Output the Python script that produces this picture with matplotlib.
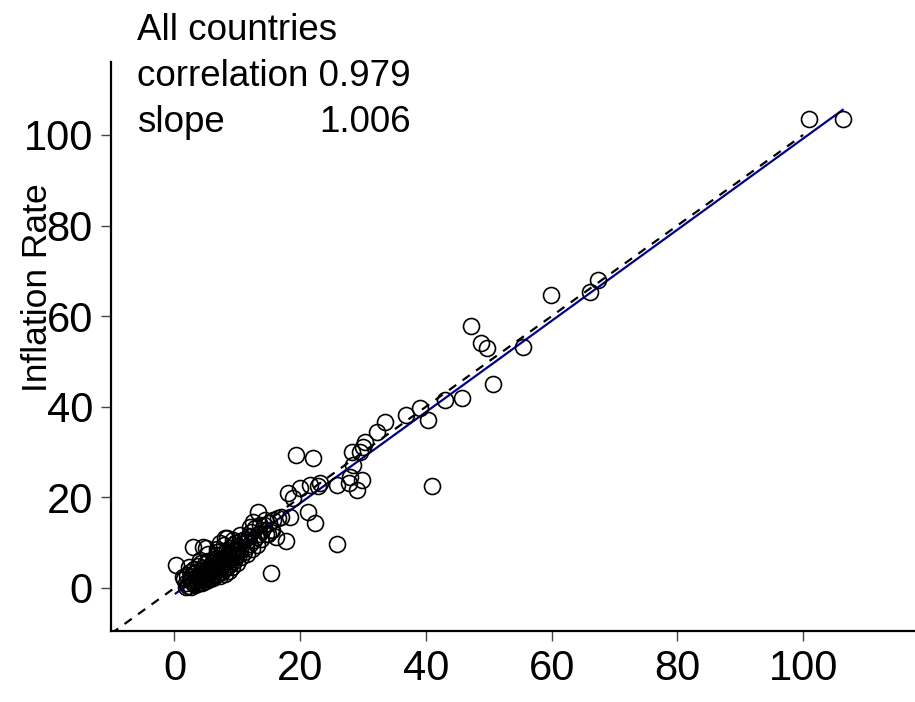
import matplotlib
matplotlib.use("Agg")
import matplotlib.pyplot as plt
import numpy as np

plt.rcParams['font.family'] = ['Liberation Sans', 'DejaVu Sans']

# ---- data ----
outlier_x = [101.0, 106.3, 67.4, 66.1, 59.9, 47.1, 48.7, 49.7, 55.5, 50.7,
             45.8, 43.1, 39.1, 40.4, 36.9, 40.9, 33.5, 32.2, 30.3, 30.0,
             28.2, 29.5, 28.4, 27.9, 29.8, 25.8, 27.7, 29.0, 25.8, 23.1,
             19.4, 22.1, 22.9, 21.5, 20.0, 18.1, 18.9, 21.3, 22.3, 17.8,
             15.3, 18.4, 17.0, 15.7, 13.3, 16.5, 14.4, 12.5, 12.0, 15.5,
             16.2, 14.9]
outlier_y = [103.5, 103.5, 68.0, 65.4, 64.7, 57.8, 54.0, 52.9, 53.1, 45.1,
             42.0, 41.5, 39.7, 37.1, 38.2, 22.5, 36.7, 34.5, 32.3, 31.2,
             30.1, 30.1, 27.2, 24.6, 23.8, 22.7, 23.1, 21.6, 9.8, 23.1,
             29.4, 28.6, 22.4, 22.7, 22.0, 20.9, 19.8, 16.8, 14.3, 10.4,
             3.4, 15.6, 15.7, 15.0, 16.8, 15.4, 15.0, 14.6, 13.5, 12.8,
             11.3, 11.9]

cluster_x = [0.2, 3.0, 5.0, 7.2, 8.0, 1.9, 1.4, 9.3, 10.4, 11.7, 9.9, 6.7, 8.3, 7.8, 4.6,
             1.5, 1.8, 2.0, 2.2, 2.4, 2.5, 2.7, 2.9, 3.0, 3.1, 3.3, 3.4, 3.5, 3.6, 3.7,
             3.8, 3.9, 4.0, 4.1, 4.2, 4.3, 4.4, 4.5, 4.6, 4.7, 4.8, 4.9, 5.0, 5.0, 5.1,
             5.2, 5.3, 5.4, 5.5, 5.6, 5.7, 5.8, 5.9, 6.0, 6.1, 6.2, 6.3, 6.4, 6.5, 6.6,
             6.7, 6.8, 6.9, 7.0, 7.1, 7.2, 7.3, 7.4, 7.5, 7.6, 7.7, 7.8, 7.9, 8.0, 8.1,
             8.2, 8.3, 8.4, 8.5, 8.6, 8.7, 8.8, 8.9, 9.0, 9.1, 9.2, 9.3, 9.4, 9.5, 9.6,
             9.7, 9.8, 9.9, 10.0, 10.1, 10.2, 10.4, 10.5, 10.6, 10.8, 11.0, 11.2, 11.4, 11.6, 11.8,
             12.0, 12.2, 12.4, 12.6, 12.8, 13.0, 13.2, 13.4, 13.6, 13.8, 14.0, 14.3, 14.6, 15.0, 15.3,
             2.6, 3.2, 3.8, 4.4, 5.6, 6.2, 2.3, 4.0, 5.3, 6.8]
cluster_y = [5.1, 9.1, 8.8, 9.9, 11.0, 0.3, 2.5, 10.6, 11.7, 10.6, 8.0, 8.0, 11.0, 9.5, 9.1,
             2.0, 1.2, 2.8, 0.5, 3.5, 1.8, 2.4, 1.0, 3.0, 4.2, 2.2, 1.5, 3.6, 0.8, 2.9,
             4.8, 1.9, 3.3, 2.5, 5.5, 1.2, 3.9, 2.8, 4.4, 2.0, 3.5, 5.2, 1.6, 3.0, 4.0,
             2.4, 6.0, 3.3, 4.7, 1.9, 3.8, 2.7, 5.4, 3.5, 4.3, 2.2, 6.5, 3.9, 5.0, 2.9,
             4.5, 7.2, 3.4, 5.6, 4.1, 2.6, 6.2, 4.8, 3.6, 7.6, 5.3, 4.2, 6.6, 3.1, 5.8,
             7.0, 4.6, 8.3, 6.0, 3.8, 7.4, 5.2, 8.8, 6.4, 4.7, 7.8, 9.5, 5.9, 8.1, 6.9,
             10.0, 7.3, 8.6, 5.5, 9.2, 7.6, 10.4, 8.4, 6.8, 9.7, 8.0, 10.9, 9.1, 7.5, 11.5,
             9.8, 12.4, 8.6, 10.6, 13.2, 11.3, 9.5, 12.0, 14.0, 10.9, 12.8, 13.8, 11.9, 14.4, 12.7,
             0.2, 0.6, 1.0, 1.4, 2.2, 2.8, 4.6, 6.2, 7.5, 8.6]

fit_intercept = -1.4
fit_slope = 1.006
ref_line_end = 100

x_ticks = [0, 20, 40, 60, 80, 100]
y_ticks = [0, 20, 40, 60, 80, 100]

money = np.array(outlier_x + cluster_x)
inflation = np.array(outlier_y + cluster_y)

# ---- figure ----
W, H = 915, 702
fig = plt.figure(figsize=(W / 100, H / 100), dpi=100)
ax = fig.add_axes([111 / W, 1 - 631 / H, (W - 111) / W, (631 - 62) / H])
ax.set_xlim(-10.1, 117.8)
ax.set_ylim(-9.5, 116.1)

# y = x reference line
ref = np.array([-10.1, ref_line_end])
ax.plot(ref, ref, color='black', linestyle=(0, (4, 3.5)), linewidth=1.6, zorder=2)

# fitted regression line
fx = np.array([money.min(), money.max()])
ax.plot(fx, fit_intercept + fit_slope * fx, color='#00008B', linewidth=1.6, zorder=3)

ax.plot(money, inflation, linestyle='none', marker='o', markersize=11.5,
        markerfacecolor='none', markeredgecolor='black', markeredgewidth=1.2,
        zorder=4)

for s in ['top', 'right']:
    ax.spines[s].set_visible(False)
for s in ['left', 'bottom']:
    ax.spines[s].set_linewidth(1.6)

ax.set_xticks(x_ticks)
ax.set_yticks(y_ticks)
ax.tick_params(axis='both', length=7, width=1, color='#444444', labelsize=30, pad=6)

fig.text(38 / W, 1 - 288 / H, 'Inflation Rate', fontsize=25.5, rotation=90,
         ha='center', va='center')

fs = 26.5
fig.text(137 / W, 1 - 40 / H, 'All countries', fontsize=fs, va='baseline', ha='left')
fig.text(137 / W, 1 - 86 / H, 'correlation 0.979', fontsize=fs, va='baseline', ha='left')
fig.text(137 / W, 1 - 132 / H, 'slope', fontsize=fs, va='baseline', ha='left')
fig.text(411 / W, 1 - 132 / H, '1.006', fontsize=fs, va='baseline', ha='right')

fig.savefig('out.png', dpi=100)
